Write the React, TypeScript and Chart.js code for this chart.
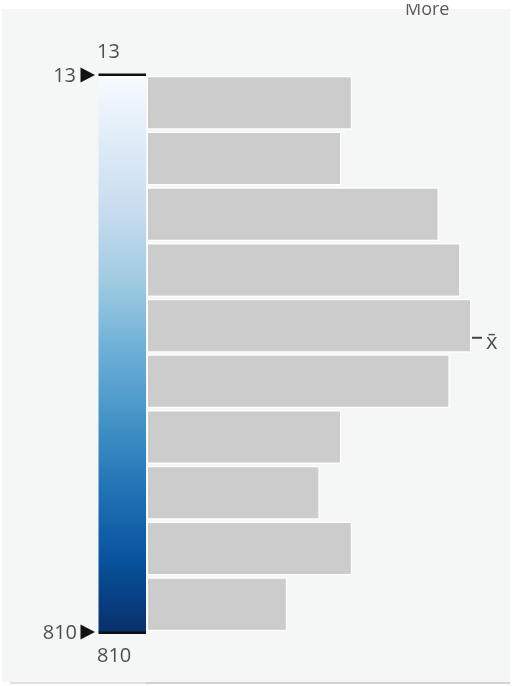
import React, { useEffect, useRef } from "react";
import { Chart, registerables } from "chart.js";

Chart.register(...registerables);

// ---- data ----
const CATEGORIES = ["13–93", "93–172", "172–252", "252–332", "332–412", "412–491", "491–571", "571–651", "651–730", "730–810"];
const COUNTS = [19, 18, 27, 29, 30, 28, 18, 16, 19, 13];
const RANGE_VALUES = [13, 810];
const TICK_LABELS = ["13", "810"];
const MEAN_VALUE = 389;
const MEAN_LABEL = "x\u0304";
const MORE_LABEL = "More";
const RAMP = ["#f7fbff", "#deebf7", "#c6dbef", "#9ecae1", "#6baed6", "#4292c6", "#2171b5", "#08519c", "#08306b"];

const W = 515;
const H = 686;
const FONT = '"Open Sans", "Noto Sans", sans-serif';
const TEXT = "#4f4f4f";

const legendPlugin = {
  id: "rampLegend",
  beforeDatasetsDraw(chart: any) {
    const ctx = chart.ctx as CanvasRenderingContext2D;
    const y2 = chart.scales.y2;
    const top = y2.getPixelForValue(RANGE_VALUES[0]);
    const bottom = y2.getPixelForValue(RANGE_VALUES[1]);
    const left = 98.5;
    const right = 146;
    ctx.save();
    const g = ctx.createLinearGradient(0, top, 0, bottom);
    RAMP.forEach((c, i) => g.addColorStop(i / (RAMP.length - 1), c));
    ctx.fillStyle = g;
    ctx.fillRect(left, top, right - left, bottom - top);
    ctx.fillStyle = "#111";
    ctx.fillRect(left, top - 1.5, right - left, 2.5);
    ctx.fillRect(left, bottom - 0.5, right - left, 2.5);
    // arrows
    [top, bottom].forEach((y) => {
      ctx.beginPath();
      ctx.moveTo(80.5, y - 7.5);
      ctx.lineTo(95, y);
      ctx.lineTo(80.5, y + 7.5);
      ctx.closePath();
      ctx.fill();
    });
    ctx.fillStyle = TEXT;
    ctx.font = `20px ${FONT}`;
    ctx.textBaseline = "middle";
    ctx.textAlign = "right";
    ctx.fillText(TICK_LABELS[0], 76, top + 1);
    ctx.fillText(TICK_LABELS[1], 77, bottom + 1);
    ctx.textAlign = "left";
    ctx.fillText(TICK_LABELS[0], 97, top - 23);
    ctx.fillText(TICK_LABELS[1], 97, bottom + 24);
    ctx.restore();
  },
  afterDatasetsDraw(chart: any) {
    const ctx = chart.ctx as CanvasRenderingContext2D;
    const y2 = chart.scales.y2;
    const ym = y2.getPixelForValue(MEAN_VALUE);
    ctx.save();
    ctx.fillStyle = "#444";
    ctx.fillRect(472, ym - 1, 10, 2);
    ctx.fillStyle = TEXT;
    ctx.font = `22px ${FONT}`;
    ctx.textAlign = "left";
    ctx.textBaseline = "alphabetic";
    ctx.fillText(MEAN_LABEL, 486, ym + 11);
    // clipped "More" label
    ctx.beginPath();
    ctx.rect(380, 4, 100, 30);
    ctx.clip();
    ctx.font = `18px ${FONT}`;
    ctx.fillStyle = "#5a5a5a";
    ctx.fillText(MORE_LABEL, 405, 14.5);
    ctx.restore();
  },
};

export default function App() {
  const ref = useRef<HTMLCanvasElement>(null);
  useEffect(() => {
    if (!ref.current) return;
    const chart = new Chart(ref.current, {
      type: "bar",
      data: {
        labels: CATEGORIES,
        datasets: [
          {
            data: COUNTS,
            backgroundColor: "#cccccc",
            borderColor: "rgba(255,255,255,0.95)",
            borderWidth: 1.5,
            borderSkipped: false,
            barPercentage: 0.97,
            categoryPercentage: 1,
          },
        ],
      },
      options: {
        indexAxis: "y",
        responsive: false,
        animation: false,
        layout: { padding: { left: 146.5, right: 43.5, top: 75, bottom: 54 } },
        plugins: { legend: { display: false }, tooltip: { enabled: false } },
        scales: {
          x: { display: false, min: 0, max: 30 },
          y: { display: false },
          y2: {
            type: "linear",
            display: false,
            offset: false,
            min: RANGE_VALUES[0],
            max: RANGE_VALUES[1],
            reverse: true,
          },
        },
      },
      plugins: [legendPlugin],
    });
    return () => chart.destroy();
  }, []);

  return (
    <div style={{ position: "fixed", left: 0, top: 0, width: W, height: H, background: "#fff", overflow: "hidden" }}>
      <div style={{ position: "absolute", left: 2, top: 9, width: 508, height: 673, background: "#f5f7f7" }} />
      <div style={{ position: "absolute", left: 10, top: 682, width: 135, height: 2, background: "#e2e2e2" }} />
      <div style={{ position: "absolute", left: 145, top: 682, width: 365, height: 2, background: "#d2d2d2" }} />
      <canvas ref={ref} width={W} height={H} style={{ position: "absolute", left: 0, top: 0, width: W, height: H }} />
    </div>
  );
}
